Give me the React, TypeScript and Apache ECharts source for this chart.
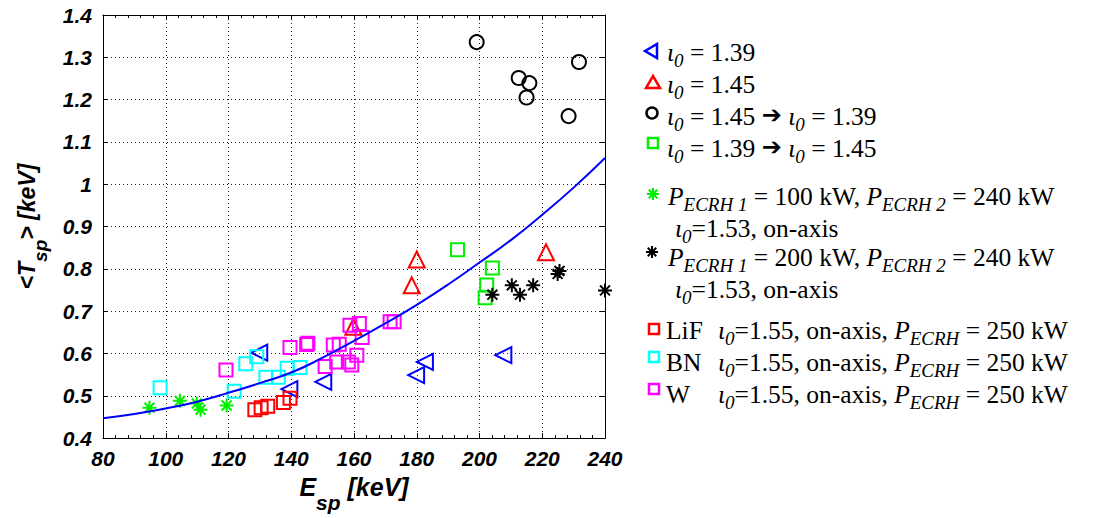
import React, { useEffect, useRef } from "react";
import * as echarts from "echarts";

const xTicks = [80, 100, 120, 140, 160, 180, 200, 220, 240];

const blueTriX = [129.8, 139.4, 150.2, 179.8, 182.6, 207.6];
const blueTriY = [0.602, 0.516, 0.533, 0.549, 0.58, 0.596];

const redTriX = [159.8, 178.4, 180.0, 221.2];
const redTriY = [0.663, 0.761, 0.822, 0.839];

const circX = [199.1, 212.5, 215.9, 215.0, 228.4, 231.7];
const circY = [1.336, 1.251, 1.239, 1.205, 1.161, 1.289];

const greenSqX = [193.0, 204.1, 202.3, 201.8];
const greenSqY = [0.845, 0.802, 0.762, 0.732];

const greenStarX = [94.8, 104.5, 109.9, 111.1, 119.4];
const greenStarY = [0.472, 0.488, 0.482, 0.467, 0.477];

const blackStarX = [204.1, 210.3, 212.9, 217.1, 224.9, 225.5, 240.0];
const blackStarY = [0.739, 0.761, 0.739, 0.761, 0.788, 0.795, 0.749];

const lifX = [128.4, 130.4, 132.5, 137.5, 139.6];
const lifY = [0.467, 0.472, 0.475, 0.484, 0.494];

const bnX = [98.2, 121.8, 125.5, 129.0, 131.9, 135.9, 138.7, 142.8];
const bnY = [0.519, 0.511, 0.576, 0.592, 0.544, 0.544, 0.565, 0.567];

const wX = [119.2, 139.6, 144.9, 145.3, 150.8, 153.4, 155.3, 154.5, 158.2, 159.3, 160.9, 158.7, 161.7, 162.6, 171.5, 172.8];
const wY = [0.561, 0.614, 0.621, 0.624, 0.569, 0.62, 0.622, 0.58, 0.58, 0.573, 0.596, 0.667, 0.671, 0.638, 0.675, 0.675];

const fitX = [80, 90, 100, 110, 120, 130, 140, 150, 160, 170, 180, 190, 200, 210, 220, 230, 240];
const fitY = [0.447, 0.457, 0.47, 0.486, 0.507, 0.53, 0.555, 0.59, 0.63, 0.671, 0.715, 0.763, 0.815, 0.868, 0.928, 0.992, 1.062];

const zip = (xs: number[], ys: number[]) => xs.map((x, i) => [x, ys[i]]);

const STAR = "path://M0,-10L0,10M-10,0L10,0M-7.07,-7.07L7.07,7.07M-7.07,7.07L7.07,-7.07";

const SERIF = "'Liberation Serif', 'Times New Roman', 'DejaVu Serif', serif";
const SANS = "'Liberation Sans', Arial, sans-serif";

const rich = {
  n: { fontFamily: SERIF, fontSize: 25.5, color: "#000", lineHeight: 30, verticalAlign: "top" },
  ni: { fontFamily: SERIF, fontSize: 25.5, fontStyle: "italic", color: "#000", lineHeight: 30, verticalAlign: "top" },
  i: { fontFamily: SERIF, fontSize: 25.5, fontStyle: "italic", color: "#000", lineHeight: 30, verticalAlign: "top" },
  s: { fontFamily: SERIF, fontSize: 19, fontStyle: "italic", color: "#000", verticalAlign: "top", lineHeight: 20, padding: [12, 0, 0, 0] },
  a: { fontFamily: "'DejaVu Sans', sans-serif", fontSize: 24, fontWeight: "bold", color: "#000", lineHeight: 30, verticalAlign: "top" },
};

function txt(x: number, y: number, text: string) {
  return {
    type: "text",
    x,
    y,
    style: { text, rich, textVerticalAlign: "middle", verticalAlign: "middle", textAlign: "left", align: "left" },
  };
}

function star(cx: number, cy: number, color: string) {
  const r = 6;
  const d = r * 0.7071;
  const segs = [
    [cx - r, cy, cx + r, cy],
    [cx, cy - r, cx, cy + r],
    [cx - d, cy - d, cx + d, cy + d],
    [cx - d, cy + d, cx + d, cy - d],
  ];
  return segs.map((s) => ({
    type: "line",
    shape: { x1: s[0], y1: s[1], x2: s[2], y2: s[3] },
    style: { stroke: color, lineWidth: 2 },
  }));
}

const iota = "{i|ι}{s|0}";

export default function App() {
  const ref = useRef<HTMLDivElement>(null);
  useEffect(() => {
    const chart = echarts.init(ref.current!, null, { renderer: "svg" });
    const axisLabel = {
      fontFamily: SANS,
      fontSize: 21,
      fontWeight: "bold",
      fontStyle: "italic",
      color: "#000",
    };
    const xNameRich = {
      m: { fontFamily: SANS, fontSize: 25, fontWeight: "bold", fontStyle: "italic", color: "#000", lineHeight: 30, verticalAlign: "top" },
      sub: { fontFamily: SANS, fontSize: 21, fontWeight: "bold", fontStyle: "italic", color: "#000", verticalAlign: "top", padding: [18, 0, 0, 0] },
    };
    const yNameRich = {
      m: { fontFamily: SANS, fontSize: 23, fontWeight: "bold", fontStyle: "italic", color: "#000", lineHeight: 28, verticalAlign: "top" },
      sub: { fontFamily: SANS, fontSize: 19, fontWeight: "bold", fontStyle: "italic", color: "#000", verticalAlign: "top", padding: [16, 0, 0, 0] },
    };
    const scatterBase = (data: number[][], symbol: string, size: number, color: string, extra: any = {}) => ({
      type: "scatter",
      data,
      symbol,
      symbolSize: size,
      itemStyle: { color: "transparent", borderColor: color, borderWidth: 2, opacity: 1 },
      emphasis: { disabled: true },
      ...extra,
    });
    chart.setOption({
      animation: false,
      backgroundColor: "#fff",
      grid: { left: 103, top: 15, right: 490, bottom: 78, show: false },
      xAxis: [
        {
          type: "value",
          min: 80,
          max: 240,
          interval: 20,
          position: "bottom",
          name: "{m|E}{sub|sp}{m| [keV]}",
          nameLocation: "middle",
          nameGap: 34,
          nameTextStyle: { rich: xNameRich },
          axisLine: { show: true, onZero: false, lineStyle: { color: "#000", width: 1 } },
          axisTick: { show: true, inside: true, length: 5, lineStyle: { color: "#000" } },
          minorTick: { show: true, splitNumber: 5, length: 3, lineStyle: { color: "#000" } },
          splitLine: { show: true, lineStyle: { color: "#222", type: [1, 3], width: 1 } },
          axisLabel: { ...axisLabel, margin: 10, formatter: (v: number) => String(v) },
        },
        {
          type: "value",
          min: 80,
          max: 240,
          interval: 20,
          position: "top",
          axisLine: { show: true, onZero: false, lineStyle: { color: "#000", width: 1 } },
          axisTick: { show: true, inside: true, length: 5, lineStyle: { color: "#000" } },
          minorTick: { show: true, splitNumber: 5, length: 3, lineStyle: { color: "#000" } },
          splitLine: { show: false },
          axisLabel: { show: false },
        },
      ],
      yAxis: [
        {
          type: "value",
          min: 0.4,
          max: 1.4,
          interval: 0.1,
          position: "left",
          name: "{m|<T}{sub|sp}{m|> [keV]}",
          nameLocation: "middle",
          nameRotate: 90,
          nameGap: 53,
          nameTextStyle: { rich: yNameRich },
          axisLine: { show: true, onZero: false, lineStyle: { color: "#000", width: 1 } },
          axisTick: { show: true, inside: true, length: 5, lineStyle: { color: "#000" } },
          splitLine: { show: true, lineStyle: { color: "#222", type: [1, 3], width: 1 } },
          axisLabel: { ...axisLabel, margin: 11, formatter: (v: number) => String(parseFloat(v.toFixed(2))) },
        },
        {
          type: "value",
          min: 0.4,
          max: 1.4,
          interval: 0.1,
          position: "right",
          axisLine: { show: true, onZero: false, lineStyle: { color: "#000", width: 1 } },
          axisTick: { show: true, inside: true, length: 5, lineStyle: { color: "#000" } },
          splitLine: { show: false },
          axisLabel: { show: false },
        },
      ],
      series: [
        scatterBase(zip(blueTriX, blueTriY), "triangle", 16, "#0000ff", { symbolRotate: 90 }),
        scatterBase(zip(redTriX, redTriY), "triangle", 16, "#ff0000"),
        scatterBase(zip(circX, circY), "circle", 14, "#000000"),
        scatterBase(zip(greenSqX, greenSqY), "rect", 13, "#00ee00"),
        scatterBase(zip(greenStarX, greenStarY), STAR, 14, "#00ee00"),
        scatterBase(zip(blackStarX, blackStarY), STAR, 14, "#000000"),
        scatterBase(zip(lifX, lifY), "rect", 13, "#ff0000"),
        scatterBase(zip(bnX, bnY), "rect", 13, "#00ffff"),
        scatterBase(zip(wX, wY), "rect", 13, "#ff00ff"),
        {
          type: "line",
          data: zip(fitX, fitY),
          smooth: true,
          showSymbol: false,
          lineStyle: { color: "#0000ff", width: 2 },
          emphasis: { disabled: true },
        },
      ],
      graphic: [
        { type: "polygon", shape: { points: [[645, 51], [657, 44], [657, 58]] }, style: { fill: "none", stroke: "#0000ff", lineWidth: 2.5 } },
        { type: "polygon", shape: { points: [[653, 76], [660, 88], [646, 88]] }, style: { fill: "none", stroke: "#ff0000", lineWidth: 2.5 } },
        { type: "circle", shape: { cx: 652, cy: 113, r: 5.5 }, style: { fill: "none", stroke: "#000", lineWidth: 2.5 } },
        { type: "rect", shape: { x: 648, y: 138, width: 10, height: 10 }, style: { fill: "none", stroke: "#00ee00", lineWidth: 2.5 } },
        ...star(653, 194, "#00ee00"),
        ...star(652, 252, "#000000"),
        { type: "rect", shape: { x: 649, y: 324, width: 10, height: 10 }, style: { fill: "none", stroke: "#ff0000", lineWidth: 2.5 } },
        { type: "rect", shape: { x: 649, y: 352, width: 10, height: 10 }, style: { fill: "none", stroke: "#00ffff", lineWidth: 2.5 } },
        { type: "rect", shape: { x: 649, y: 384, width: 10, height: 10 }, style: { fill: "none", stroke: "#ff00ff", lineWidth: 2.5 } },
        txt(667, 54, `${iota}{n| = 1.39}`),
        txt(667, 86, `${iota}{n| = 1.45}`),
        txt(667, 118, `${iota}{n| = 1.45 }{a|➔}{n| }${iota}{n| = 1.39}`),
        txt(667, 150, `${iota}{n| = 1.39 }{a|➔}{n| }${iota}{n| = 1.45}`),
        txt(668, 198, "{ni|P}{s|ECRH 1}{n| = 100 kW, }{ni|P}{s|ECRH 2}{n| = 240 kW}"),
        txt(675, 230, `${iota}{n|=1.53, on-axis}`),
        txt(668, 259, "{ni|P}{s|ECRH 1}{n| = 200 kW, }{ni|P}{s|ECRH 2}{n| = 240 kW}"),
        txt(675, 291, `${iota}{n|=1.53, on-axis}`),
        txt(666, 332, "{n|LiF}"),
        txt(718, 332, `${iota}{n|=1.55, on-axis, }{ni|P}{s|ECRH}{n| = 250 kW}`),
        txt(666, 364, "{n|BN}"),
        txt(718, 364, `${iota}{n|=1.55, on-axis, }{ni|P}{s|ECRH}{n| = 250 kW}`),
        txt(666, 396, "{n|W}"),
        txt(718, 396, `${iota}{n|=1.55, on-axis, }{ni|P}{s|ECRH}{n| = 250 kW}`),
      ],
    });
    return () => chart.dispose();
  }, []);
  return (
    <div
      ref={ref}
      style={{ position: "absolute", left: 0, top: 0, width: 1095, height: 518, background: "#fff" }}
    />
  );
}
